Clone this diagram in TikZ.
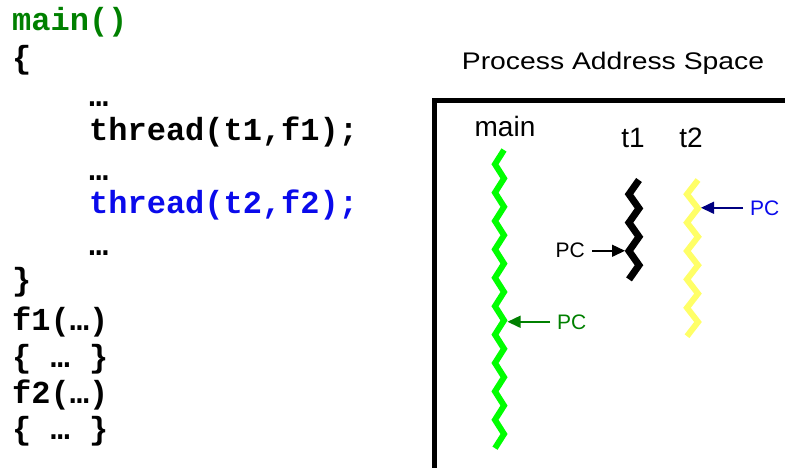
\documentclass[tikz,border=0pt]{standalone}
\usepackage{fontspec}
\setmainfont{Liberation Sans}
\setmonofont{Liberation Mono}
\usepackage{xcolor}
\usepackage{graphicx}
\usepackage{tikz}
\usetikzlibrary{arrows.meta}

\definecolor{codegreen}{RGB}{0,128,0}
\definecolor{codeblue}{RGB}{10,10,235}
\definecolor{threadgreen}{RGB}{0,255,0}
\definecolor{threadyellow}{RGB}{255,255,102}
\definecolor{pcnavy}{RGB}{0,0,128}

\begin{document}
\begin{tikzpicture}[
        x=1pt, y=-1pt,
        code/.style={anchor=base west, inner sep=0pt, font=\ttfamily\bfseries\fontsize{32}{38}\selectfont},
        label/.style={anchor=base, inner sep=0pt, font=\fontsize{28}{33}\selectfont},
        pc/.style={inner xsep=7pt, inner ysep=0pt, font=\fontsize{21}{25}\selectfont},
        thread/.style={line width=6pt, line join=miter, line cap=butt},
        pcarrow/.style={-{Triangle[length=13pt, width=12pt]}, line width=1.5pt}
    ]
        \useasboundingbox (0,0) rectangle (785,468);

        % Código
        \node[code, text=codegreen] (lmain) at (12,31) {main()};
        \node[code] (lopen) at (12,69) {\{};
        \node[code] (ldots1) at (89,107) {…};
        \node[code] (lthr1) at (89,141) {thread(t1,f1);};
        \node[code] (ldots2) at (89,181) {…};
        \node[code, text=codeblue] (lthr2) at (89,214) {thread(t2,f2);};
        \node[code] (ldots3) at (89,255) {…};
        \node[code] (lclose) at (12,290) {\}};
        \node[code] (lf1) at (12,330) {f1(…)};
        \node[code] (lbody1) at (12,367) {\{ … \}};
        \node[code] (lf2) at (12,403) {f2(…)};
        \node[code] (lbody2) at (12,439) {\{ … \}};

        % Espaço de endereçamento
        \node[anchor=base, inner sep=0pt, font=\fontsize{24}{28}\selectfont] (title) at (613,70) {\scalebox{1.18}[1]{Process Address Space}};
        \coordinate (boxbl) at (434.5,475);
        \coordinate (boxtr) at (790,100.5);
        \draw[line width=5pt] (boxbl) |- (boxtr);

        \node[label] (mainlbl) at (505,137) {main};
        \node[label] (t1lbl) at (633,148) {t1};
        \node[label] (t2lbl) at (691,148) {t2};

        % Threads
        \draw[thread, threadgreen] (504,150) \foreach \k in {0,...,9}{ -- (495,{164.2+28.4*\k}) -- (504,{178.4+28.4*\k}) } -- (495,448.2);
        \draw[thread, black, line width=7pt] (639,180) \foreach \k in {0,...,2}{ -- (629,{194.2+28.4*\k}) -- (639,{208.4+28.4*\k}) } -- (629,279.4);
        \draw[thread, threadyellow] (698,180) \foreach \k in {0,...,4}{ -- (687,{194.2+28.4*\k}) -- (698,{208.4+28.4*\k}) } -- (687,336.2);

        % PCs
        \coordinate (mainpc) at (507.5,320.4);
        \coordinate (t1pc) at (625,251);
        \coordinate (t2pc) at (701,208.4);
        \node[pc, text=codegreen, anchor=base west] (pcmain) at (550,329) {PC};
        \node[pc, anchor=base east] (pct1) at (592,258) {PC};
        \node[pc, text=codeblue, anchor=base west] (pct2) at (743,215) {PC};
        \draw[pcarrow, codegreen] (pcmain.west) -- (pcmain.west -| mainpc);
        \draw[pcarrow, black] (pct1.east) -- (pct1.east -| t1pc);
        \draw[pcarrow, pcnavy] (pct2.west) -- (pct2.west -| t2pc);

    \end{tikzpicture}
\end{document}
